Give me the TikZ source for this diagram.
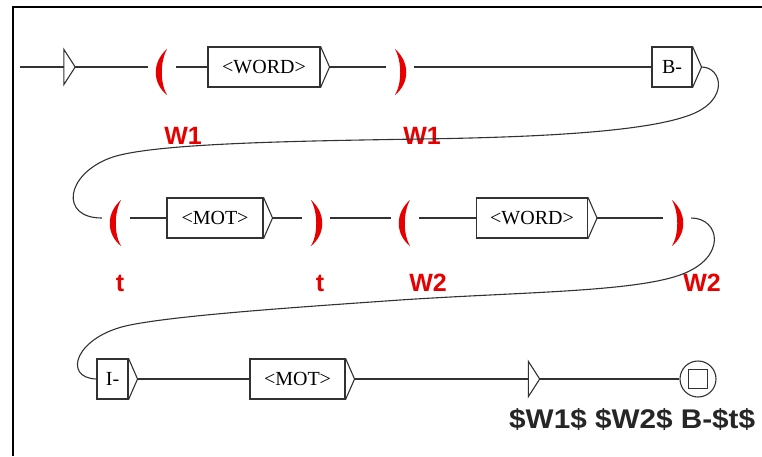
\documentclass[tikz,border=0pt]{standalone}
\usepackage{graphicx}
\usepackage{fontspec}
\setmainfont{Liberation Serif}
\newfontfamily\lblfont{Liberation Sans}
\definecolor{parred}{RGB}{230,0,0}
\definecolor{edgegray}{RGB}{50,50,50}
\tikzset{
  edge/.style={draw=edgegray, line width=1.1pt},
  boxnode/.style={draw=edgegray, line width=1.1pt, rectangle, inner sep=0pt, minimum height=40pt, font=\fontsize{20}{20}\selectfont},
  parnode/.style={rectangle, inner sep=0pt, minimum width=28pt, minimum height=44pt},
  trinode/.style={rectangle, inner sep=0pt, minimum width=11pt, minimum height=35pt},
  redlbl/.style={text=parred, font=\lblfont\bfseries\fontsize{25}{25}\selectfont, inner sep=0pt},
  outlbl/.style={text=black!85, font=\lblfont\bfseries\fontsize{27}{27}\selectfont, inner sep=0pt}
}
\newcommand\lpar[1]{\fill[parred] ([shift={(5,-18)}]#1.center) .. controls ([shift={(-10,-5)}]#1.center) and ([shift={(-10,16)}]#1.center) .. ([shift={(5,28)}]#1.center) .. controls ([shift={(-2,16)}]#1.center) and ([shift={(-2,-5)}]#1.center) .. cycle;}
\newcommand\rpar[1]{\fill[parred] ([shift={(-5,-18)}]#1.center) .. controls ([shift={(10,-5)}]#1.center) and ([shift={(10,16)}]#1.center) .. ([shift={(-5,28)}]#1.center) .. controls ([shift={(2,16)}]#1.center) and ([shift={(2,-5)}]#1.center) .. cycle;}
\newcommand\boxtip[1]{\draw[edge, line join=miter] (#1.north east) -- ([xshift=9pt]#1.east) -- (#1.south east);}
\begin{document}
\begin{tikzpicture}[x=1pt, y=-1pt]
\useasboundingbox (0,0) rectangle (762,456);
% frame
\draw[line width=2pt, black] (13,456) -- (13,7) -- (762,7);

% ---------- row 1 ----------
\coordinate (start) at (20,67);
\node[trinode] (init) at (69.5,67) {};
\node[parnode] (p1) at (162,67) {};
\node[boxnode, minimum width=112pt] (w1) at (264,67) {<WORD>};
\node[parnode] (p2) at (400,67) {};
\node[boxnode, minimum width=40pt] (bm) at (672,67) {B-};
\coordinate (w1tip) at ([xshift=9pt]w1.east);
\coordinate (bmtip) at ([xshift=9pt]bm.east);

\draw[edge] (init.north west) -- (init.east) -- (init.south west) -- cycle;
\boxtip{w1}
\boxtip{bm}
\lpar{p1}
\rpar{p2}
\draw[edge] (start) -- (init.west);
\draw[edge] (init.east) -- (p1.west);
\draw[edge] (p1.east) -- (w1.west);
\draw[edge] (w1tip) -- (p2.west);
\draw[edge] (p2.east) -- (bm.west);

\node[redlbl] (lw1a) at (183,136) {W1};
\node[redlbl] (lw1b) at (422,136) {W1};

% ---------- row 2 ----------
\node[parnode] (p3) at (116,218) {};
\node[boxnode, minimum width=96pt] (m1) at (215,218) {<MOT>};
\node[parnode] (p4) at (316,218) {};
\node[parnode] (p5) at (405,218) {};
\node[boxnode, minimum width=111pt] (w2) at (532,218) {<WORD>};
\node[parnode] (p6) at (677,218) {};
\coordinate (m1tip) at ([xshift=9pt]m1.east);
\coordinate (w2tip) at ([xshift=9pt]w2.east);
\boxtip{m1}
\boxtip{w2}
\lpar{p3}
\rpar{p4}
\lpar{p5}
\rpar{p6}
\draw[edge] (p3.east) -- (m1.west);
\draw[edge] (m1tip) -- (p4.west);
\draw[edge] (p4.east) -- (p5.west);
\draw[edge] (p5.east) -- (w2.west);
\draw[edge] (w2tip) -- (p6.west);

\node[redlbl] (lt1) at (120,283) {t};
\node[redlbl] (lt2) at (320,283) {t};
\node[redlbl] (lw2a) at (428,283) {W2};
\node[redlbl] (lw2b) at (702,283) {W2};

% curve row1 -> row2
\draw[edge] (bmtip) .. controls (722,67) and (730,100) .. (690,115)
  .. controls (650,130) and (560,137) .. (420,139)
  .. controls (300,141) and (150,143) .. (110,158)
  .. controls (65,175) and (60,218) .. (p3.west);

% ---------- row 3 ----------
\node[boxnode, minimum width=31pt] (im) at (112.5,379) {I-};
\node[boxnode, minimum width=95pt] (m2) at (297.5,379) {<MOT>};
\node[trinode, minimum width=11pt] (t2) at (534,379) {};
\node[circle, draw=edgegray, line width=1.1pt, minimum size=36pt, inner sep=0pt] (fin) at (698,379) {};
\node[rectangle, draw=edgegray, line width=1.1pt, minimum size=19pt, inner sep=0pt] (finsq) at (fin.center) {};
\coordinate (imtip) at ([xshift=9pt]im.east);
\coordinate (m2tip) at ([xshift=9pt]m2.east);
\boxtip{im}
\boxtip{m2}
\draw[edge] (t2.north west) -- (t2.east) -- (t2.south west) -- cycle;
\draw[edge] (imtip) -- (m2.west);
\draw[edge] (m2tip) -- (t2.west);
\draw[edge] (t2.east) -- (fin.west);

% curve row2 -> row3
\draw[edge] (p6.east) .. controls (720,218) and (728,258) .. (680,275)
  .. controls (632,292) and (520,292) .. (400,300)
  .. controls (300,307) and (180,315) .. (130,325)
  .. controls (75,336) and (62,378) .. (im.west);

\node[outlbl, anchor=west] (outtxt) at (509,419) {\scalebox{1.1}[1]{\$W1\$ \$W2\$ B-\$t\$}};
\end{tikzpicture}
\end{document}
